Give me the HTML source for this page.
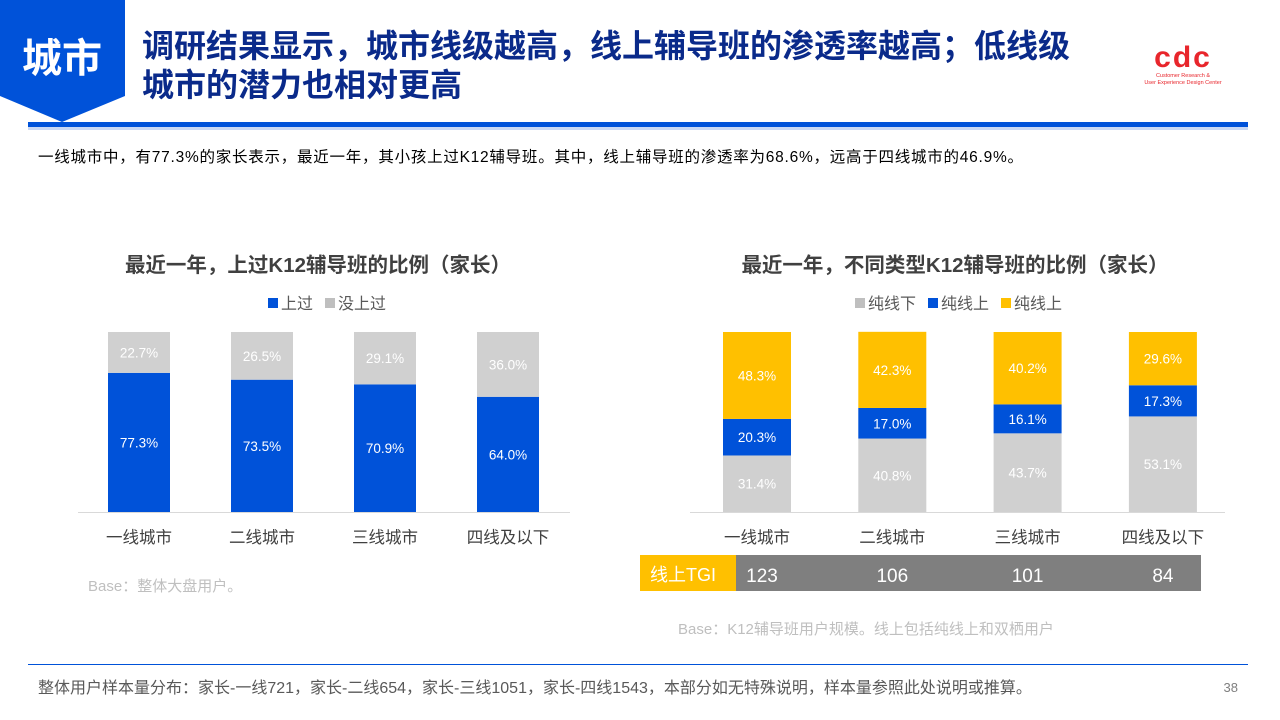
<!DOCTYPE html>
<html><head><meta charset="utf-8">
<style>
body{margin:0;width:1280px;height:720px;background:#fff;font-family:"Liberation Sans","Noto Sans CJK SC",sans-serif;position:relative;overflow:hidden}
.abs{position:absolute}
</style></head><body>
<svg class="abs" style="left:0;top:0" width="1280" height="720">
  <polygon points="0,0 125,0 125,96 62,122 0,96" fill="#0052d9"/>
  <text x="62" y="72" font-size="40" font-weight="bold" fill="#fff" text-anchor="middle" font-family="Noto Sans CJK SC,sans-serif">城市</text>
  <rect x="28" y="122" width="1220" height="5" fill="#0052d9"/>
  <rect x="28" y="127" width="1220" height="3" fill="#c9d8f5"/>
  <text x="142" y="57" font-size="32" font-weight="bold" fill="#0a2a8a" font-family="Noto Sans CJK SC,sans-serif">调研结果显示，城市线级越高，线上辅导班的渗透率越高；低线级</text>
  <text x="142" y="96" font-size="32" font-weight="bold" fill="#0a2a8a" font-family="Noto Sans CJK SC,sans-serif">城市的潜力也相对更高</text>
  <g>
    <text x="1183" y="67" font-size="30" font-weight="bold" fill="#e8262c" text-anchor="middle" font-family="Liberation Sans,sans-serif" letter-spacing="2">cdc</text>
    <text x="1183" y="77" font-size="5.5" fill="#e8262c" text-anchor="middle">Customer Research &amp;</text>
    <text x="1183" y="84" font-size="5.5" fill="#e8262c" text-anchor="middle">User Experience Design Center</text>
  </g>
  <text x="38" y="162" font-size="15.5" fill="#000" textLength="985" lengthAdjust="spacing">一线城市中，有77.3%的家长表示，最近一年，其小孩上过K12辅导班。其中，线上辅导班的渗透率为68.6%，远高于四线城市的46.9%。</text>
  <text x="318" y="272" font-size="20.5" font-weight="bold" fill="#404040" text-anchor="middle">最近一年，上过K12辅导班的比例（家长）</text>
  <text x="955" y="272" font-size="20.5" font-weight="bold" fill="#404040" text-anchor="middle">最近一年，不同类型K12辅导班的比例（家长）</text>
  <g id="left"></g>
  <g id="right"></g>
  <text x="88" y="591" font-size="15" fill="#bfbfbf">Base：整体大盘用户。</text>
  <rect x="640" y="555" width="96" height="36" fill="#ffc000"/>
  <text x="683" y="581" font-size="18" fill="#fff" text-anchor="middle">线上TGI</text>
  <rect x="736" y="555" width="465" height="36" fill="#7f7f7f"/>
  <g id="tgi"></g>
  <text x="678" y="634" font-size="15" fill="#bfbfbf">Base：K12辅导班用户规模。线上包括纯线上和双栖用户</text>
  <rect x="28" y="664" width="1220" height="1" fill="#0052d9"/>
  <text x="38" y="693" font-size="16" fill="#595959">整体用户样本量分布：家长-一线721，家长-二线654，家长-三线1051，家长-四线1543，本部分如无特殊说明，样本量参照此处说明或推算。</text>
  <text x="1238" y="692" font-size="13" fill="#7f7f7f" text-anchor="end">38</text>
</svg>
<script>
const NS="http://www.w3.org/2000/svg";
const categories=["一线城市","二线城市","三线城市","四线及以下"];
const attended=[77.3,73.5,70.9,64.0];
const notAttended=[22.7,26.5,29.1,36.0];
const offlineOnly=[31.4,40.8,43.7,53.1];
const onlineOnly=[20.3,17.0,16.1,17.3];
const onlineBoth=[48.3,42.3,40.2,29.6];
const tgi=[123,106,101,84];
const BASE=512,H=180;
const yScale=v=>v/100*H;
function el(tag,attrs,parent,txt){const e=document.createElementNS(NS,tag);for(const k in attrs)e.setAttribute(k,attrs[k]);if(txt!==undefined)e.textContent=txt;parent.appendChild(e);return e;}
const L=document.getElementById('left'),R=document.getElementById('right'),T=document.getElementById('tgi');
function legend(parent,items,x0){let x=x0;items.forEach(([c,t])=>{const r=el('rect',{x:x,y:298,width:10,height:10,fill:c},parent);


const tx=el('text',{x:x+13,y:309,'font-size':16,fill:'#595959'},parent,t);


x+=13+t.length*16+12;});}
legend(L,[["#0052d9","上过"],["#bfbfbf","没上过"]],268);
legend(R,[["#bfbfbf","纯线下"],["#0052d9","纯线上"],["#ffc000","纯线上"]],855);
function stack(parent,cx,w,segs){let y=BASE;segs.forEach(([v,c,tc])=>{const h=yScale(v);y-=h;
const r=el('rect',{x:cx-w/2,y:y,width:w,height:h,fill:c},parent);


const t=el('text',{x:cx,y:y+h/2+5,'font-size':13.5,fill:tc,'text-anchor':'middle'},parent,v.toFixed(1)+'%');

});}
function axis(parent,x1,x2,centers){el('line',{x1:x1,x2:x2,y1:BASE+0.5,y2:BASE+0.5,stroke:'#d9d9d9'},parent);
centers.forEach((cx,i)=>{const t=el('text',{x:cx,y:543,'font-size':16.5,fill:'#404040','text-anchor':'middle'},parent,categories[i]);

});}
const lc=categories.map((_,i)=>139+i*123);
categories.forEach((c,i)=>stack(L,lc[i],62,[[attended[i],'#0052d9','#fff'],[notAttended[i],'#d0d0d0','#fff']]));
axis(L,78,570,lc);
const rc=categories.map((_,i)=>757+i*135.3);
categories.forEach((c,i)=>stack(R,rc[i],68,[[offlineOnly[i],'#d0d0d0','#fff'],[onlineOnly[i],'#0052d9','#fff'],[onlineBoth[i],'#ffc000','#fff']]));
axis(R,690,1225,rc);
tgi.forEach((v,i)=>{const t=el('text',{x:rc[i]+(i==0?5:0),y:582,'font-size':19,fill:'#fff','text-anchor':'middle'},T,String(v));

});
</script>
</body></html>
